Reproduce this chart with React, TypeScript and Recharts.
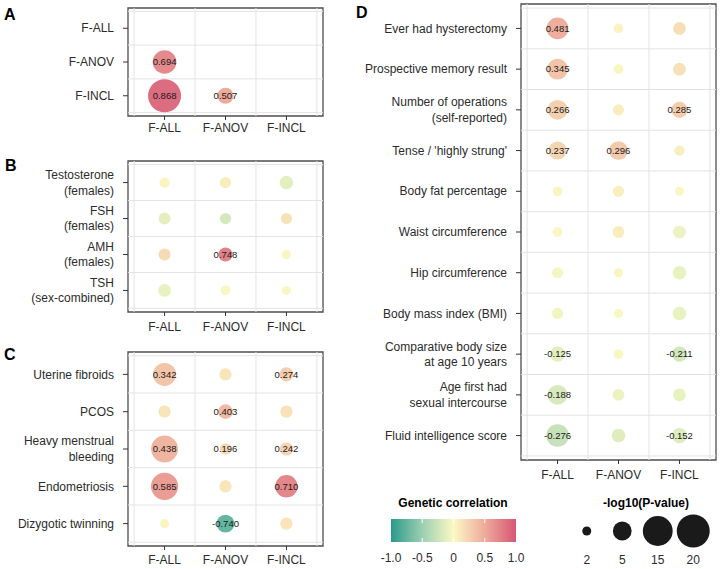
import React from 'react'
import { ScatterChart, Scatter, BarChart, Bar, XAxis, YAxis, ZAxis, ReferenceLine, ReferenceArea } from 'recharts'

const traitCols = ['F-ALL', 'F-ANOV', 'F-INCL']

// A - between subtypes
const rowsA = ['F-ALL', 'F-ANOV', 'F-INCL']
const rgA = [
  [null, null, null],
  [0.694, null, null],
  [0.868, 0.507, null],
]
const logpA = [
  [null, null, null],
  [8.2, null, null],
  [20.0, 3.8, null],
]
const sigA = [
  [0, 0, 0],
  [1, 0, 0],
  [1, 1, 0],
]

// B - hormones
const rowsB = ['Testosterone\n(females)', 'FSH\n(females)', 'AMH\n(females)', 'TSH\n(sex-combined)']
const rgB = [
  [0.03, 0.08, -0.12],
  [-0.12, -0.2, 0.15],
  [0.2, 0.748, 0.02],
  [-0.1, 0.02, 0.02],
]
const logpB = [
  [1.85, 2.0, 2.57],
  [2.16, 2.0, 2.0],
  [2.16, 2.7, 1.63],
  [2.35, 1.73, 1.63],
]
const sigB = [
  [0, 0, 0],
  [0, 0, 0],
  [0, 1, 0],
  [0, 0, 0],
]

// C - reproductive traits
const rowsC = ['Uterine fibroids', 'PCOS', 'Heavy menstrual\nbleeding', 'Endometriosis', 'Dizygotic twinning']
const rgC = [
  [0.342, 0.12, 0.274],
  [0.13, 0.403, 0.14],
  [0.438, 0.196, 0.242],
  [0.585, 0.13, 0.71],
  [0.03, -0.74, 0.13],
]
const logpC = [
  [7.4, 2.35, 2.82],
  [2.35, 3.0, 2.35],
  [11.0, 2.16, 2.57],
  [11.4, 2.35, 6.95],
  [1.73, 4.2, 2.35],
]
const sigC = [
  [1, 0, 1],
  [0, 1, 0],
  [1, 1, 1],
  [1, 0, 1],
  [0, 1, 0],
]

// D - other traits
const rowsD = [
  'Ever had hysterectomy',
  'Prospective memory result',
  'Number of operations\n(self-reported)',
  "Tense / 'highly strung'",
  'Body fat percentage',
  'Waist circumference',
  'Hip circumference',
  'Body mass index (BMI)',
  'Comparative body size\nat age 10 years',
  'Age first had\nsexual intercourse',
  'Fluid intelligence score',
]
const rgD = [
  [0.481, 0.04, 0.17],
  [0.345, 0.03, 0.16],
  [0.266, 0.08, 0.285],
  [0.237, 0.296, 0.07],
  [0.03, 0.07, 0.02],
  [0.02, 0.08, -0.08],
  [-0.04, 0.02, -0.1],
  [-0.05, 0.02, -0.1],
  [-0.125, 0.02, -0.211],
  [-0.188, -0.08, -0.1],
  [-0.276, -0.15, -0.152],
]
const logpD = [
  [6.27, 1.73, 2.35],
  [5.67, 1.73, 2.35],
  [5.12, 2.0, 3.4],
  [4.18, 4.62, 1.85],
  [1.73, 2.0, 1.63],
  [1.73, 2.16, 2.35],
  [2.0, 1.63, 2.57],
  [2.0, 1.63, 2.57],
  [3.1, 1.73, 3.1],
  [5.12, 2.16, 2.35],
  [6.95, 2.57, 3.1],
]
const sigD = [
  [1, 0, 0],
  [1, 0, 0],
  [1, 0, 1],
  [1, 1, 0],
  [0, 0, 0],
  [0, 0, 0],
  [0, 0, 0],
  [0, 0, 0],
  [1, 0, 1],
  [1, 0, 0],
  [1, 0, 1],
]

// legends
const rgBreaks = [-1, -0.5, 0, 0.5, 1]
const rgPalette = ['#2a9a8d', '#9ccfb1', '#fbf9c4', '#eeab9b', '#d65675']
const pBreaks = [2, 5, 15, 20]

const FONT = '"Liberation Sans", Arial, Helvetica, sans-serif'

function hexToRgb(h: string) {
  return [1, 3, 5].map(i => parseInt(h.slice(i, i + 2), 16))
}

function rgColor(v: number) {
  const c = Math.max(-1, Math.min(1, v))
  let k = 0
  while (k < rgBreaks.length - 2 && c > rgBreaks[k + 1]) k++
  const t = (c - rgBreaks[k]) / (rgBreaks[k + 1] - rgBreaks[k])
  const a = hexToRgb(rgPalette[k])
  const b = hexToRgb(rgPalette[k + 1])
  const m = a.map((x, i) => Math.round(x + (b[i] - x) * t))
  return `rgb(${m[0]},${m[1]},${m[2]})`
}

function Bubble(props: any) {
  const { cx, cy, payload } = props
  const r = props.width != null ? props.width / 2 : Math.sqrt(Math.max(props.size || 0, 0) / Math.PI)
  return (
    <g>
      <circle cx={cx} cy={cy} r={r} fill={rgColor(payload.rg)} />
      {payload.sig ? (
        <text x={cx} y={cy} dy="0.35em" textAnchor="middle" fontSize={9.5} fill="#1a1a1a">
          {payload.rg.toFixed(3)}
        </text>
      ) : null}
    </g>
  )
}

function RowTick(props: any) {
  const { x, y, payload, rows } = props
  const lines = rows[Math.round(payload.value) - 1].split('\n')
  const lh = 15.5
  const y0 = y - ((lines.length - 1) * lh) / 2
  return (
    <text x={x} y={y0} textAnchor="end" fontSize={12} fill="#2b2b2b">
      {lines.map((l: string, i: number) => (
        <tspan key={i} x={x} y={y0 + i * lh} dy="0.35em">{l}</tspan>
      ))}
    </text>
  )
}

const sizeAxis = <ZAxis type="number" dataKey="z" domain={[2, 20]} range={[64, 855]} scale="sqrt" />

function BubblePanel({ rows, rg, logp, sig, width, height, margin, yWidth, xHeight, xTickMargin }: any) {
  const data: any[] = []
  rows.forEach((_: string, i: number) =>
    traitCols.forEach((__, j) => {
      if (rg[i][j] === null) return
      data.push({ x: j + 1, y: i + 1, z: logp[i][j], rg: rg[i][j], sig: sig[i][j] })
    })
  )
  const n = rows.length
  const xLines = [0.5, 1.5, 2.5, 3.5]
  const yLines = rows.map((_: string, i: number) => i + 0.5).concat([n + 0.5])
  const yTicks = rows.map((_: string, i: number) => i + 1)
  return (
    <ScatterChart width={width} height={height} margin={margin}>
      <XAxis
        type="number"
        dataKey="x"
        domain={[0.4, 3.6]}
        ticks={[1, 2, 3]}
        interval={0}
        allowDataOverflow
        tickFormatter={(v: number) => traitCols[Math.round(v) - 1]}
        tick={{ fontSize: 12, fill: '#2b2b2b' }}
        tickSize={4}
        tickMargin={xTickMargin}
        tickLine={{ stroke: '#333' }}
        axisLine={false}
        height={xHeight}
      />
      <YAxis
        type="number"
        dataKey="y"
        domain={[0.4, n + 0.6]}
        reversed
        ticks={yTicks}
        interval={0}
        allowDataOverflow
        width={yWidth}
        tick={(p: any) => <RowTick {...p} rows={rows} />}
        tickSize={5}
        tickMargin={9}
        tickLine={{ stroke: '#333' }}
        axisLine={false}
      />
      {sizeAxis}
      {xLines.map(v => <ReferenceLine key={'x' + v} x={v} stroke="#e3e3e3" />)}
      {yLines.map((v: number) => <ReferenceLine key={'y' + v} y={v} stroke="#e3e3e3" />)}
      <ReferenceArea x1={0.4} x2={3.6} y1={0.4} y2={n + 0.6} fill="none" stroke="#4d4d4d" strokeWidth={1.3} />
      <Scatter data={data} shape={Bubble} isAnimationActive={false} />
    </ScatterChart>
  )
}

function ColorLegend() {
  const span = [{ name: 'rg', range: [rgBreaks[0], rgBreaks[rgBreaks.length - 1]] }]
  return (
    <BarChart layout="vertical" data={span} width={150} height={56} barCategoryGap={0}
      margin={{ top: 6, right: 14, bottom: 0, left: 11 }}>
      <defs>
        <linearGradient id="rgGrad" x1="0" y1="0" x2="1" y2="0">
          {rgBreaks.map((b, i) => (
            <stop key={b} offset={(b + 1) / 2} stopColor={rgPalette[i]} />
          ))}
        </linearGradient>
      </defs>
      <XAxis
        type="number"
        domain={[-1, 1]}
        ticks={rgBreaks}
        interval={0}
        tickFormatter={(v: number) => (v === 0 ? '0' : v.toFixed(1))}
        tick={{ fontSize: 12, fill: '#2b2b2b' }}
        tickSize={0}
        tickMargin={11}
        tickLine={false}
        axisLine={false}
        height={27}
      />
      <YAxis type="category" dataKey="name" hide />
      <Bar dataKey="range" fill="url(#rgGrad)" isAnimationActive={false} />
      {rgBreaks.slice(1, 4).map(v => (
        <ReferenceLine key={'t' + v} x={v} stroke="#fff" strokeDasharray="4 15" />
      ))}
    </BarChart>
  )
}

function SizeLegend() {
  const data = pBreaks.map((p, i) => ({ x: i + 1, y: 0.5, z: p }))
  return (
    <ScatterChart width={160} height={56} margin={{ top: 0, right: 9, bottom: 0, left: 9 }}>
      <XAxis
        type="number"
        dataKey="x"
        domain={[0.5, pBreaks.length + 0.5]}
        ticks={pBreaks.map((_, i) => i + 1)}
        interval={0}
        tickFormatter={(v: number) => String(pBreaks[Math.round(v) - 1])}
        tick={{ fontSize: 12, fill: '#2b2b2b' }}
        tickSize={0}
        tickMargin={6}
        tickLine={false}
        axisLine={false}
        height={20}
      />
      <YAxis type="number" dataKey="y" domain={[0, 1]} hide />
      {sizeAxis}
      <Scatter data={data} fill="#1a1a1a" isAnimationActive={false} />
    </ScatterChart>
  )
}

const letterStyle: React.CSSProperties = { position: 'absolute', fontSize: 16, fontWeight: 'bold', lineHeight: 1, color: '#000' }
const titleStyle: React.CSSProperties = { position: 'absolute', fontSize: 12, fontWeight: 'bold', lineHeight: 1, color: '#000', textAlign: 'center', width: 160 }

export default function App() {
  return (
    <div style={{ position: 'fixed', left: 0, top: 0, width: 720, height: 569, background: '#fff', fontFamily: FONT, overflow: 'hidden' }}>
      <div style={{ position: 'absolute', left: 0, top: 0 }}>
        <BubblePanel rows={rowsA} rg={rgA} logp={logpA} sig={sigA} width={330} height={140}
          margin={{ top: 8, right: 7, bottom: 0, left: 0 }} yWidth={128} xHeight={24} xTickMargin={3} />
      </div>
      <div style={{ position: 'absolute', left: 0, top: 150 }}>
        <BubblePanel rows={rowsB} rg={rgB} logp={logpB} sig={sigB} width={330} height={190}
          margin={{ top: 11, right: 7, bottom: 0, left: 0 }} yWidth={128} xHeight={28} xTickMargin={6} />
      </div>
      <div style={{ position: 'absolute', left: 0, top: 340 }}>
        <BubblePanel rows={rowsC} rg={rgC} logp={logpC} sig={sigC} width={330} height={229}
          margin={{ top: 12, right: 7, bottom: 0, left: 0 }} yWidth={128} xHeight={23} xTickMargin={5} />
      </div>
      <div style={{ position: 'absolute', left: 330, top: 0 }}>
        <BubblePanel rows={rowsD} rg={rgD} logp={logpD} sig={sigD} width={390} height={490}
          margin={{ top: 4, right: 4, bottom: 0, left: 0 }} yWidth={191} xHeight={30} xTickMargin={6} />
      </div>
      <div style={{ position: 'absolute', left: 380, top: 513 }}>
        <ColorLegend />
      </div>
      <div style={{ position: 'absolute', left: 560, top: 513 }}>
        <SizeLegend />
      </div>
      <div style={{ ...letterStyle, left: 4, top: 7 }}>A</div>
      <div style={{ ...letterStyle, left: 5, top: 158 }}>B</div>
      <div style={{ ...letterStyle, left: 4, top: 347 }}>C</div>
      <div style={{ ...letterStyle, left: 356, top: 5 }}>D</div>
      <div style={{ ...titleStyle, left: 373, top: 497 }}>Genetic correlation</div>
      <div style={{ ...titleStyle, left: 566, top: 497 }}>-log10(P-value)</div>
    </div>
  )
}
